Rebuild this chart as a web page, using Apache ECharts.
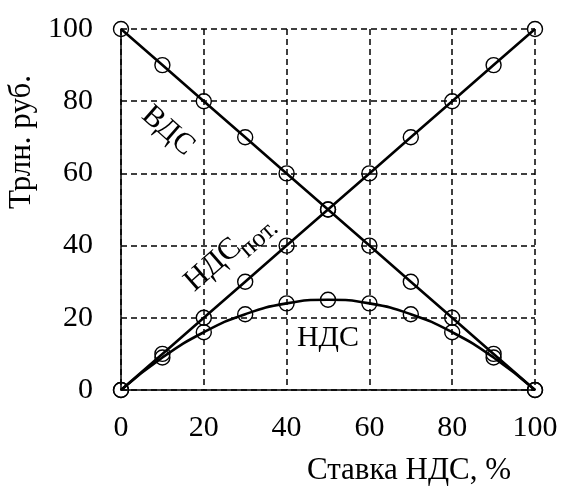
<!DOCTYPE html>
<html><head><meta charset="utf-8">
<script src="https://cdn.jsdelivr.net/npm/echarts@6/dist/echarts.min.js"></script>
<style>html,body{margin:0;padding:0;background:#fff}#c{width:562px;height:486px}</style>
</head><body><div id="c"></div>
<script>
const rates = [0,10,20,30,40,50,60,70,80,90,100];
const vds = [100,90,80,70,60,50,40,30,20,10,0];
const ndsPot = [0,10,20,30,40,50,60,70,80,90,100];
const nds = [0,9,16,21,24,25,24,21,16,9,0];
const xTitle = 'Ставка НДС, %';
const yTitle = 'Трлн. руб.';

const F = 'Liberation Serif, Times New Roman, serif';
const chart = echarts.init(document.getElementById('c'));
const pairs = arr => rates.map((x,i)=>[x,arr[i]]);
const mk = (name, arr, smooth) => ({
  name, type:'line', data: pairs(arr), smooth: smooth, clip:false,
  symbol:'circle', symbolSize:15, showSymbol:true,
  lineStyle:{color:'#000', width:2.6},
  itemStyle:{color:'rgba(0,0,0,0)', borderColor:'#000', borderWidth:1.4},
  emphasis:{disabled:true}, z:3
});
const split = {show:true, lineStyle:{color:'#000', width:1.5, type:[6,4]}};
chart.setOption({
  animation:false,
  backgroundColor:'#fff',
  grid:{left:121, right:27, top:29, bottom:96, containLabel:false, outerBoundsMode:'none'},
  xAxis:{type:'value', min:0, max:100, interval:20,
    axisLine:{show:true, onZero:false, lineStyle:{color:'#000', width:1.5}},
    axisTick:{show:false}, splitLine:split,
    axisLabel:{color:'#000', fontFamily:F, fontSize:30, margin:23},
    name:xTitle, nameLocation:'middle', nameGap:65,
    nameTextStyle:{color:'#000', fontFamily:F, fontSize:31, padding:[0,0,0,162]}},
  yAxis:{type:'value', min:0, max:100, interval:20,
    axisLine:{show:true, onZero:false, lineStyle:{color:'#000', width:1.5}},
    axisTick:{show:false}, splitLine:split,
    axisLabel:{color:'#000', fontFamily:F, fontSize:30, margin:28},
    name:yTitle, nameLocation:'middle', nameGap:81, nameRotate:90,
    nameTextStyle:{color:'#000', fontFamily:F, fontSize:31, padding:[0,0,0,135]}},
  series:[mk('ВДС', vds, false), mk('НДС пот.', ndsPot, false), mk('НДС', nds, 0.5)],
  graphic:[
    {type:'text', x:168, y:131, rotation:-0.72, style:{text:'ВДС', font:'30px '+F, fill:'#000', align:'center', verticalAlign:'middle'}},
    {type:'text', x:213, y:265, rotation:0.72, style:{text:'НДС', font:'31px '+F, fill:'#000', align:'center', verticalAlign:'middle'}},
    {type:'text', x:259, y:239, rotation:0.72, style:{text:'пот.', font:'26px '+F, fill:'#000', align:'center', verticalAlign:'middle'}},
    {type:'text', x:328, y:338, style:{text:'НДС', font:'30px '+F, fill:'#000', align:'center', verticalAlign:'middle'}}
  ]
});
</script></body></html>
